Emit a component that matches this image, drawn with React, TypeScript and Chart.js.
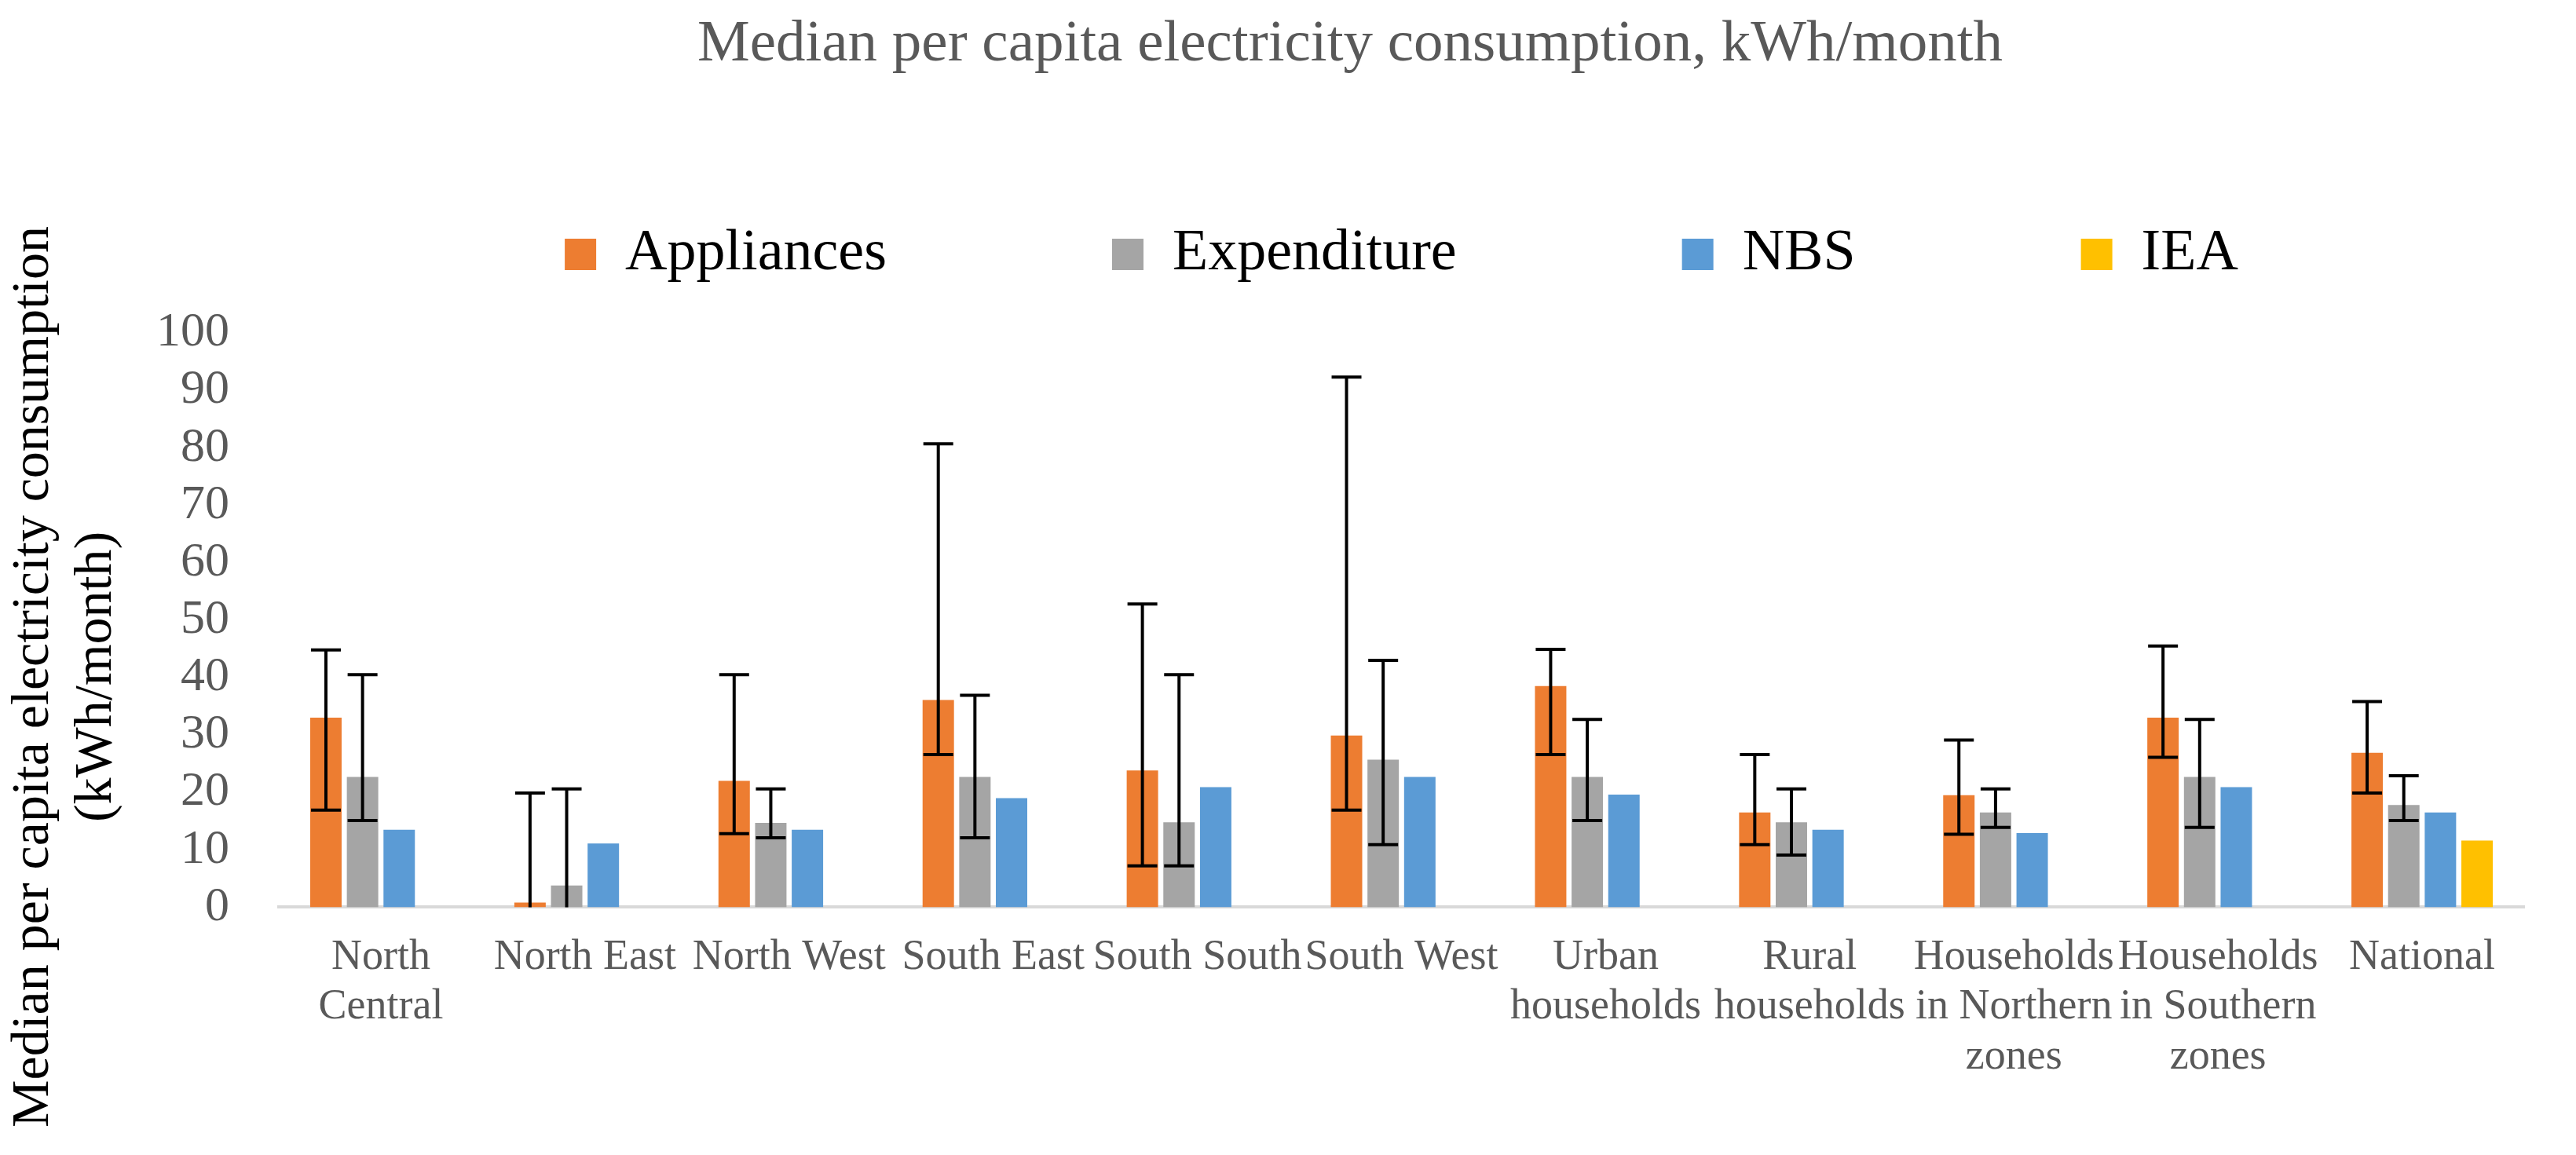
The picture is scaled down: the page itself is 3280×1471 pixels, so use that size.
import { useEffect, useRef } from "react";
import { Chart, registerables, ChartConfiguration, Plugin } from "chart.js";

Chart.register(...registerables);

const TITLE = "Median per capita electricity consumption, kWh/month";
const Y_TITLE = ["Median per capita electricity consumption", "(kWh/month)"];

const CATEGORIES = [
    ["North", "Central"],
    ["North East"],
    ["North West"],
    ["South East"],
    ["South South"],
    ["South West"],
    ["Urban", "households"],
    ["Rural", "households"],
    ["Households", "in Northern", "zones"],
    ["Households", "in Southern", "zones"],
    ["National"],
];

const APPLIANCES = [33.0, 0.8, 22.0, 36.1, 23.8, 29.9, 38.5, 16.5, 19.5, 33.0, 26.9];
const APPLIANCES_LOW = [16.9, -5, 12.8, 26.6, 7.2, 16.9, 26.6, 10.9, 12.7, 26.1, 19.9];
const APPLIANCES_HIGH = [44.8, 19.9, 40.5, 80.7, 52.8, 92.3, 44.9, 26.6, 29.1, 45.5, 35.8];

const EXPENDITURE = [22.7, 3.8, 14.7, 22.7, 14.8, 25.7, 22.7, 14.8, 16.5, 22.7, 17.8];
const EXPENDITURE_LOW = [15.1, -5, 12.1, 12.1, 7.2, 10.9, 15.1, 9.1, 13.9, 13.9, 15.1];
const EXPENDITURE_HIGH = [40.5, 20.6, 20.6, 36.9, 40.5, 43.0, 32.7, 20.6, 20.6, 32.7, 22.9];

const NBS = [13.5, 11.1, 13.5, 19.0, 20.9, 22.7, 19.6, 13.5, 12.9, 20.9, 16.5];
const IEA = [null, null, null, null, null, null, null, null, null, null, 11.6];

// Excel office palette
const COLORS = {
    orange: "#ED7D31",
    gray: "#A5A5A5",
    blue: "#5B9BD5",
    yellow: "#FFC000",
};

const FONT = '"Liberation Serif", "Times New Roman", serif';

// which datasets carry error bars
const ERROR_RANGES = [
    { datasetIndex: 0, low: APPLIANCES_LOW, high: APPLIANCES_HIGH },
    { datasetIndex: 1, low: EXPENDITURE_LOW, high: EXPENDITURE_HIGH },
];

const errorBarPlugin: Plugin = {
    id: "errorBars",
    afterDatasetsDraw(chart) {
        const { ctx, chartArea, scales } = chart;
        const cap = 19;
        ctx.save();
        ctx.beginPath();
        ctx.rect(chartArea.left, chartArea.top, chartArea.right - chartArea.left, chartArea.bottom - chartArea.top);
        ctx.clip();
        ctx.strokeStyle = "#000";
        ctx.lineWidth = 4;
        ERROR_RANGES.forEach(({ datasetIndex, low, high }) => {
            const meta = chart.getDatasetMeta(datasetIndex);
            meta.data.forEach((bar: any, i: number) => {
                const x = bar.x;
                const yLow = scales.y.getPixelForValue(low[i]);
                const yHigh = scales.y.getPixelForValue(high[i]);
                ctx.beginPath();
                ctx.moveTo(x, yLow);
                ctx.lineTo(x, yHigh);
                ctx.moveTo(x - cap, yHigh);
                ctx.lineTo(x + cap, yHigh);
                ctx.moveTo(x - cap, yLow);
                ctx.lineTo(x + cap, yLow);
                ctx.stroke();
            });
        });
        ctx.restore();
    },
};

// chart title and the two-line y axis title, placed as in the original figure
const textPlugin: Plugin = {
    id: "figureText",
    afterDraw(chart) {
        const { ctx } = chart;
        ctx.save();
        ctx.font = `75px ${FONT}`;
        ctx.fillStyle = "#595959";
        ctx.textAlign = "center";
        ctx.textBaseline = "alphabetic";
        ctx.fillText(TITLE, 1719, 77);

        ctx.font = `68px ${FONT}`;
        ctx.fillStyle = "#000";
        const baselines = [61, 141];
        Y_TITLE.forEach((line, i) => {
            ctx.save();
            ctx.translate(baselines[i], 862);
            ctx.rotate(-Math.PI / 2);
            ctx.fillText(line, 0, 0);
            ctx.restore();
        });
        ctx.restore();
    },
};

function ConsumptionChart() {
    const canvasRef = useRef<HTMLCanvasElement>(null);
    const chartRef = useRef<Chart | null>(null);

    useEffect(() => {
        if (!canvasRef.current) return;
        if (chartRef.current) {
            chartRef.current.destroy();
        }
        const ctx = canvasRef.current.getContext("2d");
        if (!ctx) return;

        Chart.defaults.font.family = FONT;

        const config: ChartConfiguration = {
            type: "bar",
            data: {
                labels: CATEGORIES,
                datasets: [
                    { label: "Appliances", data: APPLIANCES, backgroundColor: COLORS.orange, borderWidth: 0 },
                    { label: "Expenditure", data: EXPENDITURE, backgroundColor: COLORS.gray, borderWidth: 0 },
                    { label: "NBS", data: NBS, backgroundColor: COLORS.blue, borderWidth: 0 },
                    { label: "IEA", data: IEA, backgroundColor: COLORS.yellow, borderWidth: 0 },
                ],
            },
            options: {
                responsive: true,
                maintainAspectRatio: false,
                animation: false,
                datasets: {
                    bar: {
                        categoryPercentage: 0.718,
                        barPercentage: 0.857,
                    },
                },
                layout: {
                    padding: { left: 136, right: 66, top: 0, bottom: 60 },
                },
                plugins: {
                    legend: {
                        position: "top",
                        fullSize: false,
                        labels: {
                            boxWidth: 40,
                            boxHeight: 40,
                            padding: 287,
                            color: "#000",
                            font: { size: 74, family: FONT },
                        },
                    },
                    // empty spacer between legend and plot
                    subtitle: {
                        display: true,
                        text: "",
                        weight: 500,
                        padding: { top: 52, bottom: 0 },
                        font: { size: 1, lineHeight: 1 },
                    },
                    title: { display: false },
                    tooltip: { enabled: false },
                },
                scales: {
                    x: {
                        grid: { display: false, drawTicks: false },
                        border: { display: true, color: "#D9D9D9", width: 4 },
                        ticks: {
                            color: "#595959",
                            padding: 33,
                            maxRotation: 0,
                            autoSkip: false,
                            font: { size: 54, family: FONT, lineHeight: 1.17 },
                        },
                    },
                    y: {
                        min: 0,
                        max: 100,
                        grid: { display: false, drawTicks: false },
                        border: { display: false },
                        ticks: {
                            stepSize: 10,
                            autoSkip: false,
                            color: "#595959",
                            padding: 63,
                            font: { size: 62, family: FONT },
                        },
                    },
                },
            },
            plugins: [errorBarPlugin, textPlugin],
        };

        chartRef.current = new Chart(ctx, config);

        return () => {
            if (chartRef.current) {
                chartRef.current.destroy();
                chartRef.current = null;
            }
        };
    }, []);

    return (
        <div style={{ position: "absolute", left: 0, top: 0, width: 3280, height: 1471, background: "#fff" }}>
            <canvas ref={canvasRef} />
        </div>
    );
}

export default function App() {
    return <ConsumptionChart />;
}
